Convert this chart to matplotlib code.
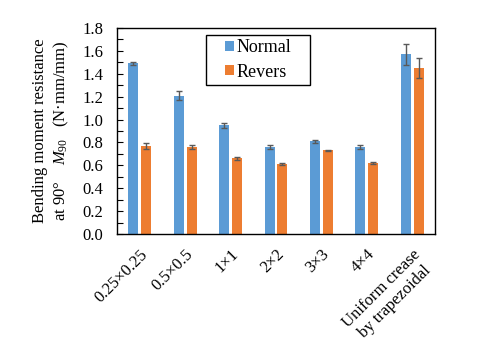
import numpy as np
import matplotlib
matplotlib.use("Agg")
import matplotlib.pyplot as plt
from matplotlib.patches import Rectangle

plt.rcParams['font.family'] = ['Liberation Serif', 'DejaVu Serif']
plt.rcParams['mathtext.fontset'] = 'custom'
plt.rcParams['mathtext.it'] = 'Liberation Serif:italic'
plt.rcParams['mathtext.rm'] = 'Liberation Serif'

categories = ["0.25×0.25", "0.5×0.5", "1×1", "2×2", "3×3", "4×4",
              "Uniform crease\nby trapezoidal"]
normal = [1.49, 1.21, 0.95, 0.76, 0.81, 0.76, 1.57]
normal_err = [0.012, 0.04, 0.02, 0.015, 0.015, 0.015, 0.09]
revers = [0.77, 0.76, 0.66, 0.61, 0.73, 0.62, 1.45]
revers_err = [0.025, 0.015, 0.012, 0.01, 0.008, 0.01, 0.085]

fig = plt.figure(figsize=(4.96, 3.47), dpi=100)
ax = fig.add_axes([117/496, 1-234/347, 318/496, 206/347])

x = np.arange(len(categories))
w = 0.22
ekw = dict(ecolor='#595959', elinewidth=1.0, capsize=2.5, capthick=1.0)
ax.bar(x - 0.143, normal, w, yerr=normal_err, color='#5B9BD5', label='Normal', error_kw=ekw)
ax.bar(x + 0.143, revers, w, yerr=revers_err, color='#ED7D31', label='Revers', error_kw=ekw)

ax.set_xlim(-0.5, len(categories) - 0.5)
ax.set_ylim(0, 1.8)
ax.set_yticks(np.arange(0, 1.81, 0.2))
ax.set_yticklabels([f"{v:.1f}" for v in np.arange(0, 1.81, 0.2)], fontsize=12)
ax.set_yticks(np.arange(0.1, 1.8, 0.2), minor=True)
ax.tick_params(axis='y', which='both', direction='in', length=4, width=0.8, pad=10)
ax.tick_params(axis='x', length=0, pad=9)
ax.set_xticks(x)
ax.set_xticklabels(categories, rotation=45, ha='right', rotation_mode='anchor',
                   fontsize=12, multialignment='center')
for s in ax.spines.values():
    s.set_linewidth(1.0)

ax.set_ylabel("Bending moment resistance\nat 90°    $\\mathit{M}_{\\mathit{90}}$   (N·mm/mm)",
              fontsize=12, linespacing=1.3, labelpad=8)

# legend with its own box
ax.add_patch(Rectangle((0.280, 0.723), 0.327, 0.243, transform=ax.transAxes,
                       fill=False, edgecolor='black', linewidth=1.0, zorder=5))
ax.legend(loc='center', bbox_to_anchor=(0.443, 0.845), fontsize=13, frameon=False,
          handlelength=0.5, handleheight=0.5, labelspacing=0.4, handletextpad=0.15,
          borderpad=0, borderaxespad=0)

fig.savefig("out.png", dpi=100)
